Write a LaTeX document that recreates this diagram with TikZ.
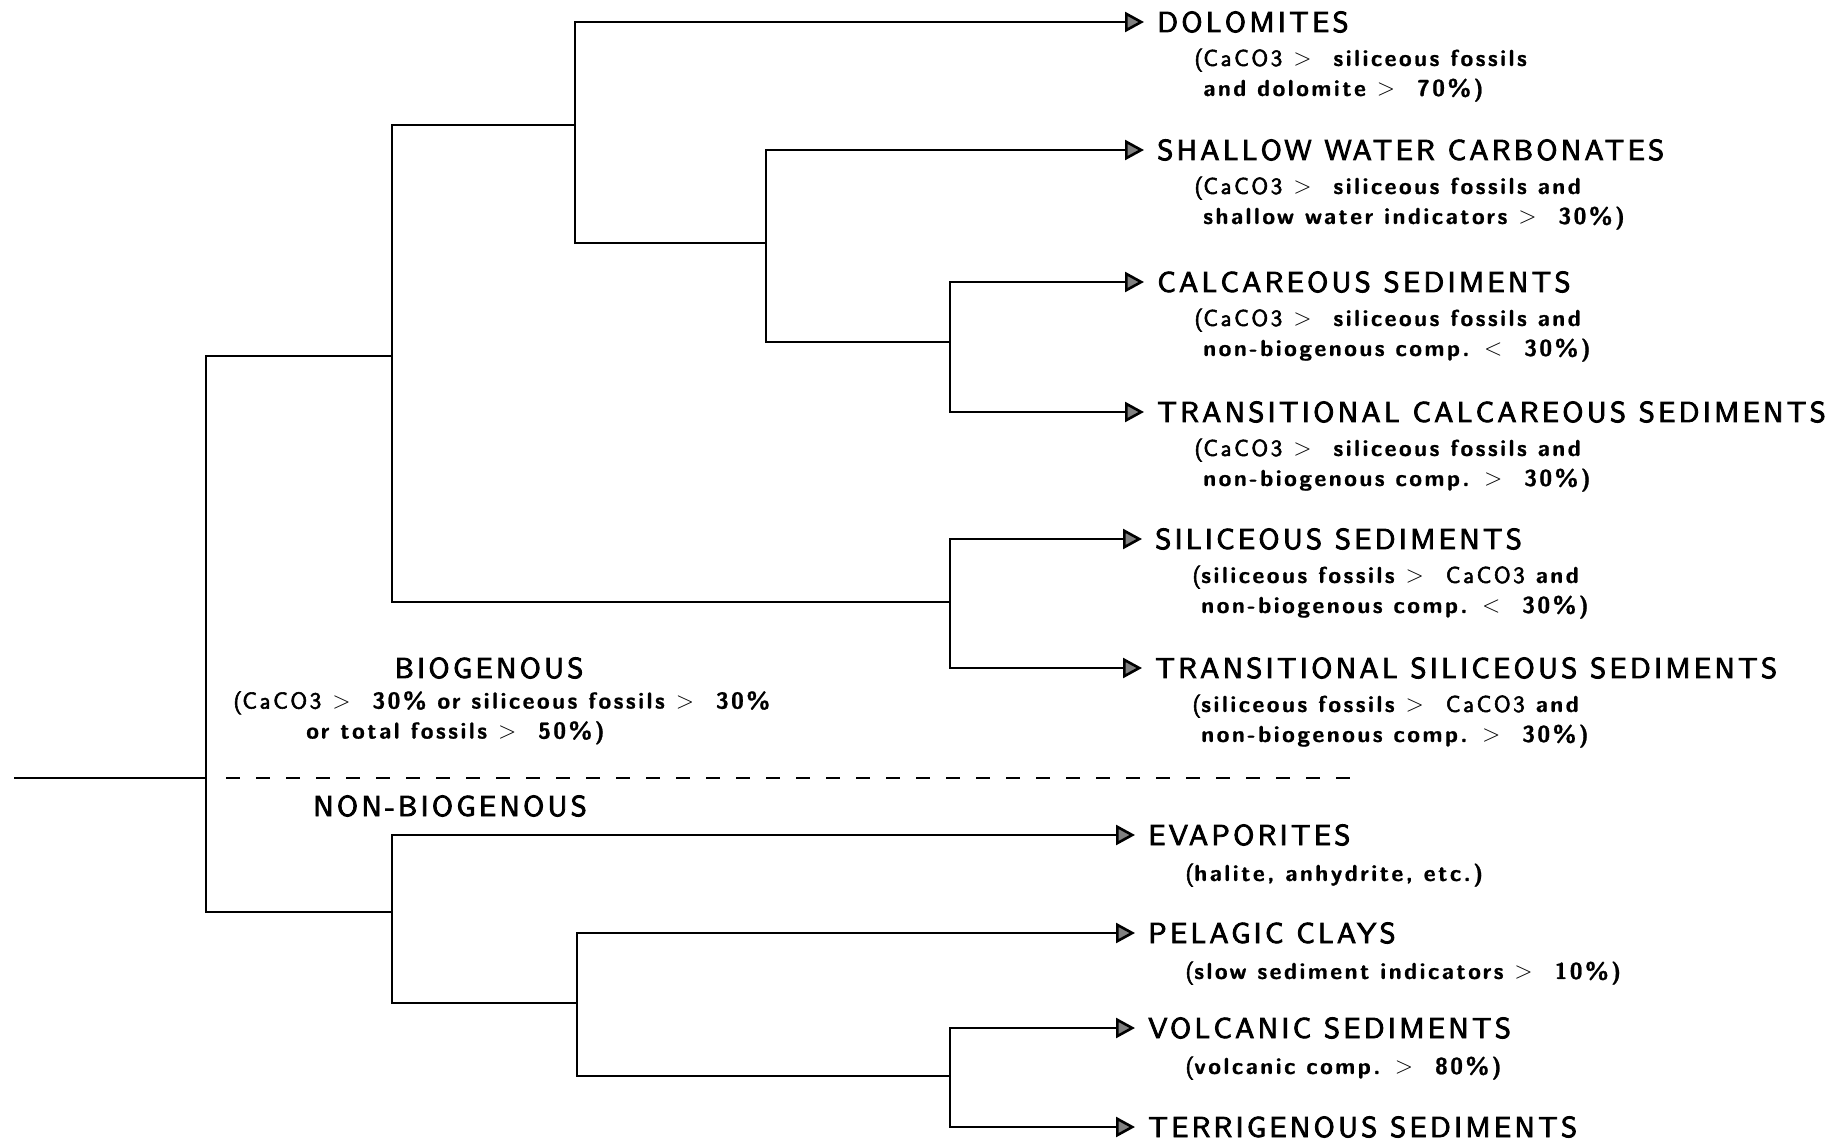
\documentclass[tikz,border=0pt]{standalone}
\usepackage{fontspec}
\usetikzlibrary{arrows.meta,calc}
\newfontfamily\ttlfont{lmsans10-regular}[Extension=.otf,LetterSpace=11.5,FakeBold=3]
\newfontfamily\cmtfont{lmsans10-regular}[Extension=.otf,BoldFont=lmsans10-bold,LetterSpace=11,UprightFeatures={FakeBold=2.5},BoldFeatures={FakeBold=1}]
\newcommand{\caco}{{\mdseries CaCO3}}
\newcommand{\grt}{$>$\ \ }
\newcommand{\lst}{$<$\ \ }
\newcommand{\opn}{\llap{\mdseries(}}

\begin{document}
\begin{tikzpicture}[x=0.5pt,y=-0.5pt,line width=1.3pt,
  arr/.style={-{Triangle[length=9.5pt,width=10pt,fill=black!50]}},
  ttl/.style={anchor=west,inner xsep=6pt,inner ysep=1pt,font=\ttlfont\fontsize{14.4pt}{17pt}\selectfont},
  cmt/.style={anchor=north west,inner sep=0pt,align=left,font=\cmtfont\fontsize{11.5pt}{15pt}\selectfont\bfseries}]
  \useasboundingbox (0,0) rectangle (1848,1145);

  \coordinate (root) at (14,778);
  \coordinate (j0) at (206,778);
  \coordinate (jBio) at (392,356);
  \coordinate (jNon) at (392,912);
  \coordinate (jCarb) at (575,125);
  \coordinate (jShal) at (766,243);
  \coordinate (jCalc) at (950,342);
  \coordinate (jSil) at (950,602);
  \coordinate (jClay) at (577,1003);
  \coordinate (jVolc) at (950,1076);
  \coordinate (dashL) at (226,778);
  \coordinate (dashR) at (1362,778);

  \node[ttl] (dol) at (1144,22) {DOLOMITES};
  \node[ttl] (shal) at (1144,150) {SHALLOW WATER CARBONATES};
  \node[ttl] (calc) at (1144,282) {CALCAREOUS SEDIMENTS};
  \node[ttl] (tcalc) at (1144,412) {TRANSITIONAL CALCAREOUS SEDIMENTS};
  \node[ttl] (sil) at (1142,539) {SILICEOUS SEDIMENTS};
  \node[ttl] (tsil) at (1142,668) {TRANSITIONAL SILICEOUS SEDIMENTS};
  \node[ttl] (evap) at (1135,835) {EVAPORITES};
  \node[ttl] (clay) at (1135,933) {PELAGIC CLAYS};
  \node[ttl] (volc) at (1135,1028) {VOLCANIC SEDIMENTS};
  \node[ttl] (terr) at (1135,1127) {TERRIGENOUS SEDIMENTS};

  \node[cmt] (dolc) at ([xshift=29pt,yshift=-7.7pt]dol.base west) {\opn\caco{} \grt siliceous fossils\\and dolomite \grt 70\%)};
  \node[cmt] (shalc) at ([xshift=29pt,yshift=-7.7pt]shal.base west) {\opn\caco{} \grt siliceous fossils and\\shallow water indicators \grt 30\%)};
  \node[cmt] (calcc) at ([xshift=29pt,yshift=-7.7pt]calc.base west) {\opn\caco{} \grt siliceous fossils and\\non-biogenous comp. \lst 30\%)};
  \node[cmt] (tcalcc) at ([xshift=29pt,yshift=-7.7pt]tcalc.base west) {\opn\caco{} \grt siliceous fossils and\\non-biogenous comp. \grt 30\%)};
  \node[cmt] (silc) at ([xshift=29pt,yshift=-7.7pt]sil.base west) {\opn siliceous fossils \grt\caco{} and\\non-biogenous comp. \lst 30\%)};
  \node[cmt] (tsilc) at ([xshift=29pt,yshift=-7.7pt]tsil.base west) {\opn siliceous fossils \grt\caco{} and\\non-biogenous comp. \grt 30\%)};
  \node[cmt] (evapc) at ([xshift=29pt,yshift=-8.7pt]evap.base west) {\opn halite, anhydrite, etc.)};
  \node[cmt] (clayc) at ([xshift=29pt,yshift=-8.7pt]clay.base west) {\opn slow sediment indicators \grt 10\%)};
  \node[cmt] (volcc) at ([xshift=29pt,yshift=-8.7pt]volc.base west) {\opn volcanic comp. \grt 80\%)};

  \node[ttl,anchor=center,inner xsep=0pt] (bio) at (489,668) {BIOGENOUS};
  \node[cmt] (bioc) at (241,690) {\opn\caco{} \grt 30\% or siliceous fossils \grt 30\%\\\hspace*{32pt}or total fossils \grt 50\%)};
  \node[ttl,anchor=center,inner xsep=0pt] (nonbio) at (450,806) {NON-BIOGENOUS};

  \draw (root) -- (j0);
  \draw (jBio) -| (j0) |- (jNon);
  \draw (jCarb) -| (jBio) |- (jSil);
  \draw[arr] (jShal) -| (jCarb) |- (dol.west);
  \draw[arr] (jCalc) -| (jShal) |- (shal.west);
  \draw[arr] (jCalc) |- (calc.west);
  \draw[arr] (jCalc) |- (tcalc.west);
  \draw[arr] (jSil) |- (sil.west);
  \draw[arr] (jSil) |- (tsil.west);
  \draw[arr] (jClay) -| (jNon) |- (evap.west);
  \draw[arr] (jVolc) -| (jClay) |- (clay.west);
  \draw[arr] (jVolc) |- (volc.west);
  \draw[arr] (jVolc) |- (terr.west);
  \draw[dash pattern=on 7pt off 8pt] (dashL) -- (dashR);
\end{tikzpicture}
\end{document}
